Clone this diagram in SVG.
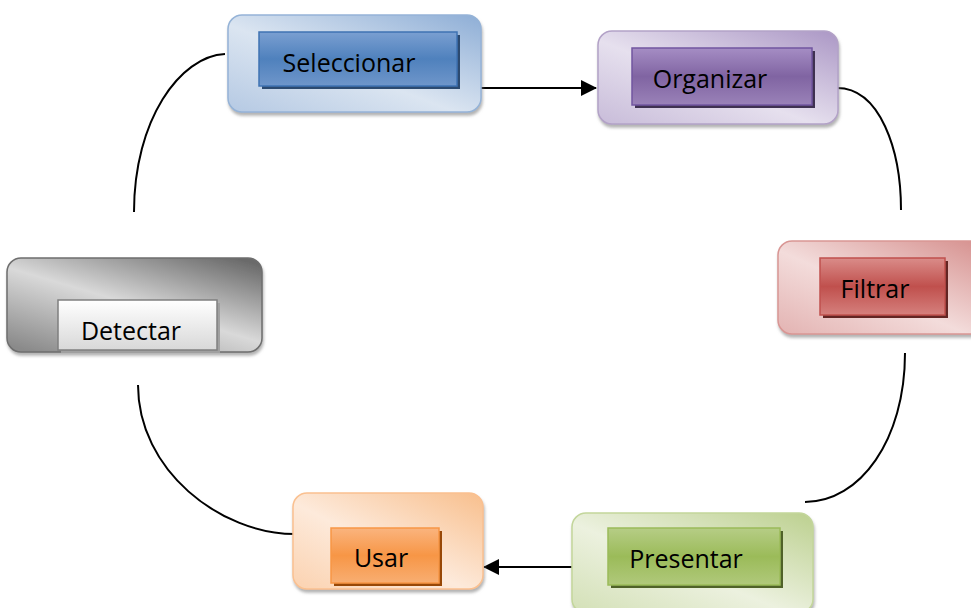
<svg xmlns="http://www.w3.org/2000/svg" width="971" height="608" viewBox="0 0 971 608">
<defs>
<style>
.lbl{font-family:"Open Sans","Liberation Sans",sans-serif;font-size:25px;fill:#000;text-anchor:middle}
.con{fill:none;stroke:#000;stroke-width:2}
.outer{filter:url(#sh)}
</style>
<filter id="sh" x="-10%" y="-10%" width="125%" height="130%">
<feDropShadow dx="1" dy="3" stdDeviation="1.5" flood-color="#808080" flood-opacity="0.6"/>
</filter>
<marker id="ah" markerWidth="8" markerHeight="8" refX="7.5" refY="4" orient="auto" markerUnits="strokeWidth">
<path d="M0,0 L8,4 L0,8 Z" fill="#000"/>
</marker>
<linearGradient id="gBlueO" x1="1" y1="0" x2="0" y2="1">
<stop offset="0" stop-color="#8eaed6"/><stop offset="0.55" stop-color="#dbe5f1"/><stop offset="1" stop-color="#b5c9e3"/>
</linearGradient>
<linearGradient id="gBlueI" x1="0" y1="0" x2="0" y2="1">
<stop offset="0" stop-color="#7a9fd1"/><stop offset="0.5" stop-color="#4f81bd"/><stop offset="1" stop-color="#6f96ca"/>
</linearGradient>
<linearGradient id="gPurO" x1="1" y1="0" x2="0" y2="1">
<stop offset="0" stop-color="#ab97c5"/><stop offset="0.55" stop-color="#e6e0ee"/><stop offset="1" stop-color="#c8bcd9"/>
</linearGradient>
<linearGradient id="gPurI" x1="0" y1="0" x2="0" y2="1">
<stop offset="0" stop-color="#a58dc4"/><stop offset="0.5" stop-color="#8064a2"/><stop offset="1" stop-color="#9a82b8"/>
</linearGradient>
<linearGradient id="gRedO" x1="1" y1="0" x2="0" y2="1">
<stop offset="0" stop-color="#d58e8c"/><stop offset="0.55" stop-color="#f3dcdb"/><stop offset="1" stop-color="#e3b3b2"/>
</linearGradient>
<linearGradient id="gRedI" x1="0" y1="0" x2="0" y2="1">
<stop offset="0" stop-color="#da8c89"/><stop offset="0.5" stop-color="#c0504d"/><stop offset="1" stop-color="#d5807d"/>
</linearGradient>
<linearGradient id="gGrayO" x1="0.9" y1="0" x2="0.1" y2="1">
<stop offset="0" stop-color="#6a6a6a"/><stop offset="0.5" stop-color="#d9d9d9"/><stop offset="1" stop-color="#8a8a8a"/>
</linearGradient>
<linearGradient id="gGrayI" x1="0" y1="0" x2="0" y2="1">
<stop offset="0" stop-color="#ffffff"/><stop offset="1" stop-color="#d8d8d8"/>
</linearGradient>
<linearGradient id="gOrO" x1="1" y1="0" x2="0" y2="1">
<stop offset="0" stop-color="#f8bf8d"/><stop offset="0.55" stop-color="#fdeadb"/><stop offset="1" stop-color="#fbd2b0"/>
</linearGradient>
<linearGradient id="gOrI" x1="0" y1="0" x2="0" y2="1">
<stop offset="0" stop-color="#fab47e"/><stop offset="0.5" stop-color="#f79646"/><stop offset="1" stop-color="#f8ae72"/>
</linearGradient>
<linearGradient id="gGrO" x1="1" y1="0" x2="0" y2="1">
<stop offset="0" stop-color="#bcd08f"/><stop offset="0.55" stop-color="#ecf1df"/><stop offset="1" stop-color="#d3e0b6"/>
</linearGradient>
<linearGradient id="gGrI" x1="0" y1="0" x2="0" y2="1">
<stop offset="0" stop-color="#b6cd86"/><stop offset="0.5" stop-color="#9bbb59"/><stop offset="1" stop-color="#b0c97b"/>
</linearGradient>
</defs>
<rect width="971" height="608" fill="#fff"/>

<g id="connectors">
<line class="con" x1="480" y1="88" x2="596" y2="88" marker-end="url(#ah)"/>
<path class="con" d="M837,88 C880,88 901,150 901,210"/>
<path class="con" d="M905,353 C905,440 860,502 805,502"/>
<line class="con" x1="573" y1="567" x2="484" y2="567" marker-end="url(#ah)"/>
<path class="con" d="M295,534 C220,534 138,470 138,385"/>
<path class="con" d="M134,212 C134,120 180,56 225,54"/>
</g>

<g id="node-seleccionar">
<rect class="outer" x="228" y="15" width="253" height="97" rx="14" fill="url(#gBlueO)" stroke="#95b3d7" stroke-width="1.5"/>
<rect x="262" y="35" width="198" height="54" fill="#2c4a70"/>
<rect x="259" y="32" width="198" height="54" fill="url(#gBlueI)" stroke="#3f73b3" stroke-width="1.5"/>
<text class="lbl" x="349" y="72">Seleccionar</text>
</g>

<g id="node-organizar">
<rect class="outer" x="598" y="31" width="240" height="93" rx="14" fill="url(#gPurO)" stroke="#b3a2c7" stroke-width="1.5"/>
<rect x="635" y="51" width="180" height="57" fill="#3f3151"/>
<rect x="632" y="48" width="180" height="57" fill="url(#gPurI)" stroke="#7256a0" stroke-width="1.5"/>
<text class="lbl" x="710" y="88">Organizar</text>
</g>

<g id="node-filtrar">
<rect class="outer" x="778" y="241" width="210" height="93" rx="14" fill="url(#gRedO)" stroke="#d99694" stroke-width="1.5"/>
<rect x="823" y="261" width="125" height="57" fill="#632523"/>
<rect x="820" y="258" width="125" height="57" fill="url(#gRedI)" stroke="#c0504d" stroke-width="1.5"/>
<text class="lbl" x="875" y="298">Filtrar</text>
</g>

<g id="node-detectar">
<rect class="outer" x="7" y="258" width="255" height="94" rx="14" fill="url(#gGrayO)" stroke="#6e6e6e" stroke-width="1.5"/>
<rect x="61" y="303" width="159" height="50" fill="#a0a0a0"/>
<rect x="58" y="300" width="159" height="50" fill="url(#gGrayI)" stroke="#7f7f7f" stroke-width="1.5"/>
<text class="lbl" x="131" y="340">Detectar</text>
</g>

<g id="node-usar">
<rect class="outer" x="293" y="493" width="190" height="96" rx="14" fill="url(#gOrO)" stroke="#fac090" stroke-width="1.5"/>
<rect x="334" y="531" width="108" height="55" fill="#984807"/>
<rect x="331" y="528" width="108" height="55" fill="url(#gOrI)" stroke="#f79646" stroke-width="1.5"/>
<text class="lbl" x="381" y="567">Usar</text>
</g>

<g id="node-presentar">
<rect class="outer" x="572" y="513" width="241" height="100" rx="14" fill="url(#gGrO)" stroke="#c3d69b" stroke-width="1.5"/>
<rect x="611" y="531" width="172" height="57" fill="#4f6228"/>
<rect x="608" y="528" width="172" height="57" fill="url(#gGrI)" stroke="#9bbb59" stroke-width="1.5"/>
<text class="lbl" x="686" y="568">Presentar</text>
</g>
</svg>
